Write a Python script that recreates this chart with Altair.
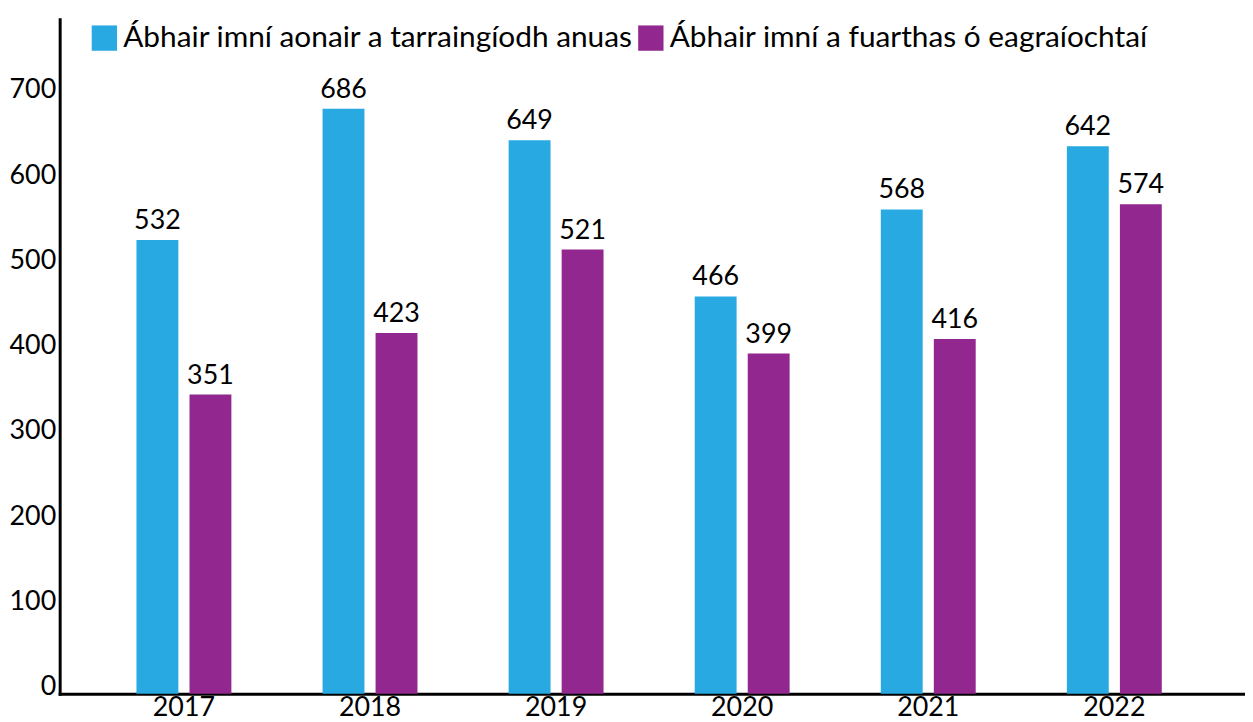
import altair as alt
import pandas as pd

years = ["2017", "2018", "2019", "2020", "2021", "2022"]
series_names = ["Ábhair imní aonair a tarraingíodh anuas", "Ábhair imní a fuarthas ó eagraíochtaí"]
series_a = [532, 686, 649, 466, 568, 642]
series_b = [351, 423, 521, 399, 416, 574]
colors = ["#29A9E1", "#92278F"]
y_ticks = [0, 100, 200, 300, 400, 500, 600, 700]

rows = []
for i, y in enumerate(years):
    rows.append({"year": y, "series": series_names[0], "value": series_a[i], "order": 0})
    rows.append({"year": y, "series": series_names[1], "value": series_b[i], "order": 1})
df = pd.DataFrame(rows)

FONT = "Lato"

x = alt.X("year:N", sort=years,
          scale=alt.Scale(paddingInner=0.49, paddingOuter=0.43, align=0.48),
          axis=alt.Axis(title=None, labelAngle=0, ticks=False, domainWidth=3, domainColor="black",
                        labelFontSize=27, labelColor="black", labelFont=FONT, labelPadding=1))
xo = alt.XOffset("series:N", sort=series_names, scale=alt.Scale(paddingInner=0.21))
y = alt.Y("value:Q", scale=alt.Scale(domain=[0, 791], nice=False),
          axis=alt.Axis(title=None, values=y_ticks, ticks=False, grid=False, domainWidth=3,
                        domainColor="black", labelFontSize=27, labelColor="black",
                        labelFont=FONT, labelPadding=4, labelOffset=-7))

color = alt.Color("series:N", sort=series_names,
                  scale=alt.Scale(domain=series_names, range=colors),
                  legend=alt.Legend(title=None, orient="none", direction="horizontal",
                                    legendX=30, legendY=4, symbolType="square", symbolSize=650,
                                    symbolStrokeWidth=0, labelFontSize=30, labelFont=FONT,
                                    labelColor="black", columnPadding=2, labelOffset=4,
                                    labelLimit=800, symbolOpacity=1))

base = alt.Chart(df).encode(x=x, xOffset=xo, y=y)
bars = base.mark_bar(opacity=1).encode(color=color)
text = base.mark_text(dy=-19, fontSize=27, font=FONT, color="black").encode(text="value:Q")

chart = (bars + text).properties(
    width=1193, height=679,
    autosize=alt.AutoSizeParams(type="none"),
    padding={"left": 52, "top": 9, "right": 0, "bottom": 22},
).configure_view(stroke=None).configure_axis(domainCap="square")

chart.save("out.html", embed_options={"renderer": "svg", "actions": False})
